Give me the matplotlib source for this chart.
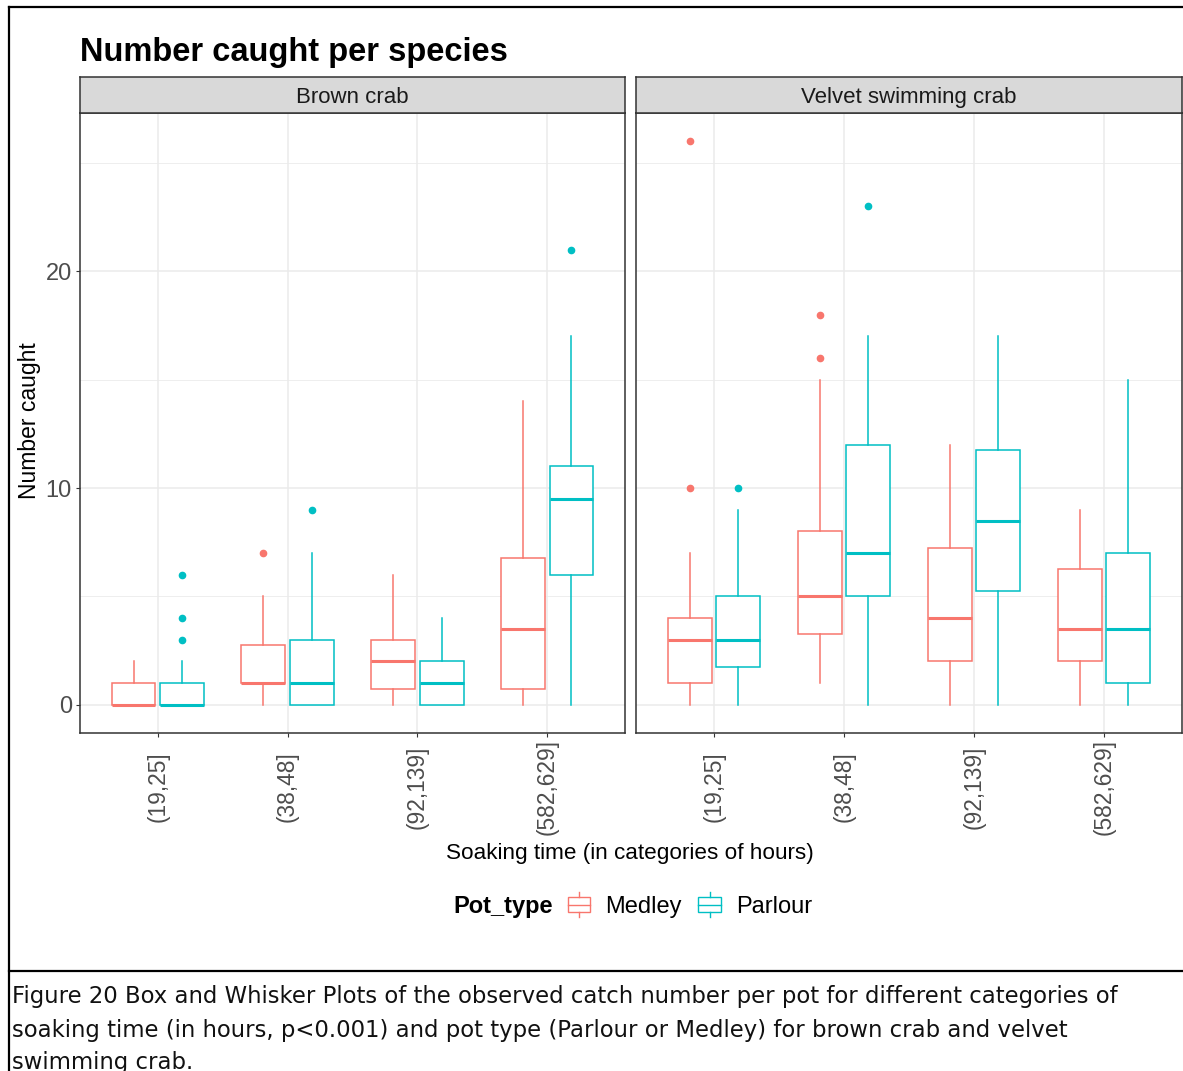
# Box-and-whisker summary of crab catches per pot, by soaking time and pot type.

import matplotlib.pyplot as plt
from matplotlib.legend_handler import HandlerBase
from matplotlib.lines import Line2D
from matplotlib.patches import Rectangle
from matplotlib.transforms import ScaledTranslation

species = ["Brown crab", "Velvet swimming crab"]
soak_bins = ["(19,25]", "(38,48]", "(92,139]", "(582,629]"]
pot_types = ["Medley", "Parlour"]
pot_colors = {"Medley": "#F8766D", "Parlour": "#00BFC4"}

# five-number summaries per soak bin: (whisker low, q1, median, q3, whisker high)
brown_medley = [(0, 0, 0, 1, 2), (0, 1, 1, 2.75, 5), (0, 0.75, 2, 3, 6), (0, 0.75, 3.5, 6.75, 14)]
brown_parlour = [(0, 0, 0, 1, 2), (0, 0, 1, 3, 7), (0, 0, 1, 2, 4), (0, 6, 9.5, 11, 17)]
velvet_medley = [(0, 1, 3, 4, 7), (1, 3.25, 5, 8, 15), (0, 2, 4, 7.25, 12), (0, 2, 3.5, 6.25, 9)]
velvet_parlour = [(0, 1.75, 3, 5, 9), (0, 5, 7, 12, 17), (0, 5.25, 8.5, 11.75, 17), (0, 1, 3.5, 7, 15)]

# outlying pots
brown_medley_out = [[], [7], [], []]
brown_parlour_out = [[3, 4, 6], [9], [], [21]]
velvet_medley_out = [[10, 26], [16, 18], [], []]
velvet_parlour_out = [[10], [23], [], []]

panels = {
    "Brown crab": {"Medley": (brown_medley, brown_medley_out),
                   "Parlour": (brown_parlour, brown_parlour_out)},
    "Velvet swimming crab": {"Medley": (velvet_medley, velvet_medley_out),
                             "Parlour": (velvet_parlour, velvet_parlour_out)},
}

W, H = 1183, 1071
FONT = "Liberation Sans"
BOX_W = 0.3375
OFFSET = {"Medley": -0.1875, "Parlour": 0.1875}


class BoxKeyHandler(HandlerBase):
    # little boxplot glyph used as a legend key
    def create_artists(self, legend, orig, xdescent, ydescent, width, height, fontsize, trans):
        c = orig.get_color()
        bw, bh = width * 0.95, height * 0.7
        cx = width / 2 - xdescent
        x0 = cx - bw / 2
        y0 = (height - bh) / 2 - ydescent
        rect = Rectangle((x0, y0), bw, bh, facecolor="white", edgecolor=c, lw=1.0, transform=trans)
        mid = Line2D([x0, x0 + bw], [y0 + bh / 2] * 2, color=c, lw=1.0, transform=trans)
        top = Line2D([cx, cx], [y0 + bh, height * 1.1 - ydescent], color=c, lw=1.0, transform=trans)
        bot = Line2D([cx, cx], [y0, -height * 0.1 - ydescent], color=c, lw=1.0, transform=trans)
        return [rect, mid, top, bot]


def px(x0, y0, x1, y1):
    # pixel box (top-left origin) -> figure fraction rect
    return [x0 / W, 1 - y1 / H, (x1 - x0) / W, (y1 - y0) / H]


def draw_panel(fig, ax, name, show_y):
    ax.set_facecolor("white")
    ax.set_xlim(0.4, 4.6)
    ax.set_ylim(-1.3, 27.3)
    for y in [5, 15, 25]:
        ax.axhline(y, color="#EBEBEB", lw=0.6, zorder=0)
    for y in [0, 10, 20]:
        ax.axhline(y, color="#EBEBEB", lw=1.1, zorder=0)
    for x in range(1, 5):
        ax.axvline(x, color="#EBEBEB", lw=1.1, zorder=0)

    for pot in pot_types:
        summaries, outs = panels[name][pot]
        stats = []
        for (lo, q1, med, q3, hi), fl in zip(summaries, outs):
            stats.append(dict(whislo=lo, q1=q1, med=med, q3=q3, whishi=hi, fliers=fl))
        pos = [i + 1 + OFFSET[pot] for i in range(len(soak_bins))]
        c = pot_colors[pot]
        ax.bxp(stats, positions=pos, widths=BOX_W, showcaps=False, patch_artist=True,
               manage_ticks=False,
               boxprops=dict(facecolor="white", edgecolor=c, lw=1.1),
               whiskerprops=dict(color=c, lw=1.1),
               medianprops=dict(color=c, lw=2.2),
               flierprops=dict(marker="o", markerfacecolor=c, markeredgecolor=c, markersize=4.5))

    # soak-bin labels are rotated and centred on a common line below the panel
    ax.set_xticks(range(1, 5))
    ax.set_xticklabels(soak_bins, rotation=90, fontsize=16.4, color="#4D4D4D", family=FONT,
                       va="center")
    shift = ScaledTranslation(12 / 100, 0, fig.dpi_scale_trans)
    for lab in ax.get_xticklabels():
        lab.set_transform(lab.get_transform() + shift)
    ax.set_yticks([0, 10, 20])
    if show_y:
        ax.set_yticklabels(["0", "10", "20"], fontsize=17, color="#4D4D4D", family=FONT)
    else:
        ax.tick_params(axis="y", left=False, labelleft=False)
    ax.tick_params(length=2.9, width=0.8, color="#333333", pad=3)
    ax.tick_params(axis="x", pad=36)
    for s in ax.spines.values():
        s.set_color("#333333")
        s.set_linewidth(1.1)


def main():
    fig = plt.figure(figsize=(W / 100, H / 100), dpi=100)

    boxes = [(80, 625), (636, 1182)]
    for i, (name, (x0, x1)) in enumerate(zip(species, boxes)):
        ax = fig.add_axes(px(x0, 113, x1, 733))
        draw_panel(fig, ax, name, show_y=(i == 0))
        strip = fig.add_axes(px(x0, 77, x1, 113))
        strip.set_facecolor("#D9D9D9")
        strip.set_xticks([])
        strip.set_yticks([])
        for s in strip.spines.values():
            s.set_color("#333333")
            s.set_linewidth(1.1)
        strip.text(0.5, 0.44, name, ha="center", va="center", fontsize=16,
                   color="#1A1A1A", family=FONT, transform=strip.transAxes)

    fig.text(80 / W, 1 - 52 / H, "Number caught per species", fontsize=23.5,
             fontweight="bold", family=FONT, va="center", ha="left")
    fig.text(30 / W, 1 - 421 / H, "Number caught", rotation=90, fontsize=16.5,
             family=FONT, va="center", ha="center")
    fig.text(630 / W, 1 - 854 / H, "Soaking time (in categories of hours)", fontsize=16.2,
             family=FONT, va="center", ha="center")

    # legend: bold title followed by the two pot types
    fig.text(553 / W, 1 - 907 / H, "Pot_type", fontsize=17, fontweight="bold",
             family=FONT, va="center", ha="right")
    handles = [Line2D([], [], color=pot_colors[p]) for p in pot_types]
    fig.legend(handles, pot_types, loc="center left", bbox_to_anchor=(567 / W, 1 - 906 / H),
               ncol=2, frameon=False, handler_map={Line2D: BoxKeyHandler()},
               prop=dict(family=FONT, size=17), handlelength=1.0, handleheight=1.0,
               handletextpad=0.62, columnspacing=0.68, borderpad=0, borderaxespad=0)

    # page frame and caption
    frame = dict(color="black", lw=1.6, transform=fig.transFigure)
    fig.add_artist(Line2D([9 / W, 1], [1 - 7 / H] * 2, **frame))
    fig.add_artist(Line2D([9 / W] * 2, [1 - 7 / H, 0], **frame))
    fig.add_artist(Line2D([9 / W, 1], [1 - 971 / H] * 2, **frame))

    caption = [
        "Figure 20 Box and Whisker Plots of the observed catch number per pot for different categories of",
        "soaking time (in hours, p<0.001) and pot type (Parlour or Medley) for brown crab and velvet",
        "swimming crab.",
    ]
    for k, line in enumerate(caption):
        fig.text(12 / W, 1 - (997 + 33 * k) / H, line, fontsize=16.4, family="DejaVu Sans",
                 va="center", ha="left", color="#111111")

    fig.savefig("out.png", dpi=100)


if __name__ == "__main__":
    main()
